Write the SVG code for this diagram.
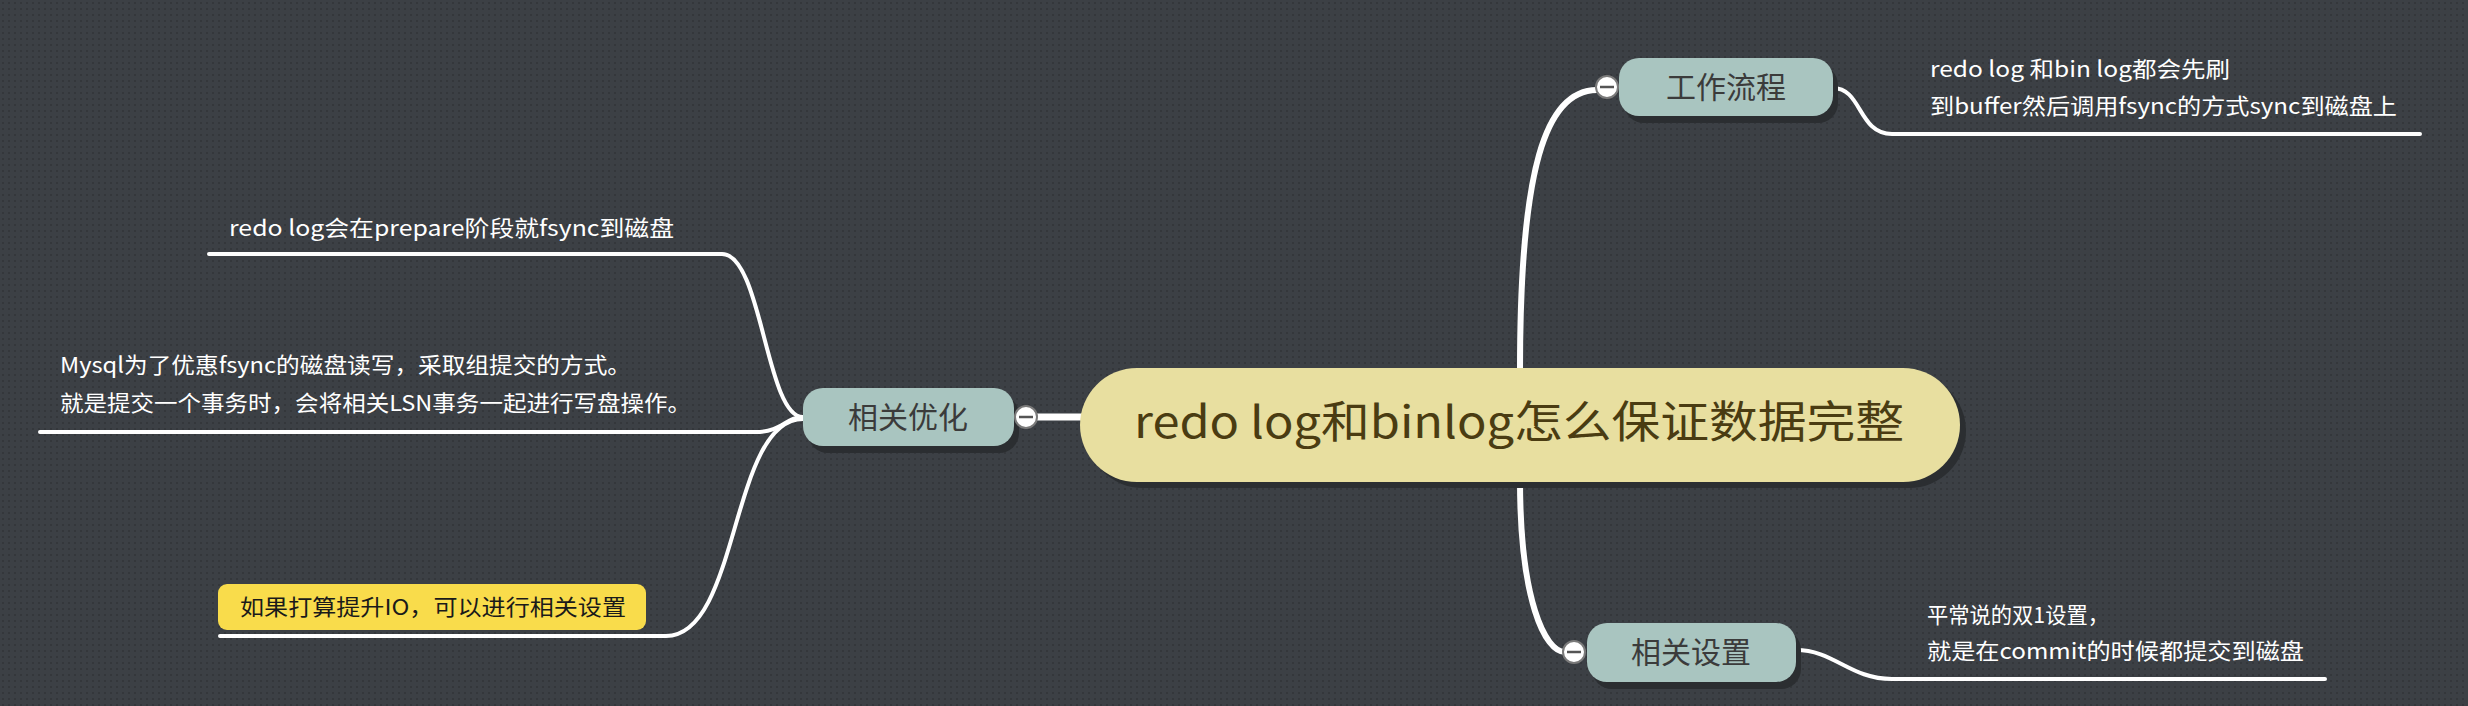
<svg xmlns="http://www.w3.org/2000/svg" width="2468" height="706" viewBox="0 0 2468 706">
<defs>
<pattern id="dots" width="6" height="6" patternUnits="userSpaceOnUse">
<rect width="6" height="6" fill="#3c4045"/>
<rect x="2" y="2" width="2" height="2" fill="#34373b"/>
</pattern>
<style>
.conn{fill:none;stroke:#ffffff;stroke-linecap:round}
.t{font-family:"Noto Sans CJK SC","Noto Sans",sans-serif}
.lbl{fill:#ffffff;font-size:22px}
.sub{fill:#a9c5c0}
.subt{fill:#3b3b3b;font-size:30px;text-anchor:middle}
.shadow{fill:#2b2e31}
.tog{fill:#ffffff;stroke:#7a7a7a;stroke-width:2}
.minus{stroke:#555555;stroke-width:2.5}
</style>
</defs>
<rect width="2468" height="706" fill="url(#dots)"/>
<g id="connectors">
<path class="conn" stroke-width="6" d="M1520 370 C1520 170 1545 90 1597 90"/>
<path class="conn" stroke-width="6" d="M1520 480 C1520 600 1545 652 1565 652"/>
<path class="conn" stroke-width="7" d="M1036 417 H1082"/>
<path class="conn" stroke-width="4" d="M1833 88 C1862 88 1858 134 1892 134 H2420"/>
<path class="conn" stroke-width="4" d="M1796 650 C1834 650 1850 679 1892 679 H2325"/>
<path class="conn" stroke-width="4" d="M209 254 H722 C762 254 766 417 803 417"/>
<path class="conn" stroke-width="4" d="M40 432 H756 C782 432 786 417 803 417"/>
<path class="conn" stroke-width="4" d="M220 636 H666 C740 636 730 419 803 419"/>
</g>
<g id="central">
<rect class="shadow" x="1086" y="374" width="880" height="114" rx="57"/>
<rect x="1080" y="368" width="880" height="114" rx="57" fill="#e8dfa0"/>
<text class="t" x="1134" y="438" font-size="44" fill="#4a3c12" textLength="770" lengthAdjust="spacingAndGlyphs">redo log和binlog怎么保证数据完整</text>
</g>
<g id="node-gongzuo">
<rect class="shadow" x="1624" y="65" width="214" height="58" rx="20"/>
<rect class="sub" x="1619" y="58" width="214" height="58" rx="20"/>
<text class="t subt" x="1726" y="98">工作流程</text>
<circle class="tog" cx="1607" cy="87" r="11"/>
<line class="minus" x1="1600" y1="87" x2="1614" y2="87"/>
</g>
<g id="node-shezhi">
<rect class="shadow" x="1592" y="630" width="209" height="59" rx="20"/>
<rect class="sub" x="1587" y="623" width="209" height="59" rx="20"/>
<text class="t subt" x="1691" y="663">相关设置</text>
<circle class="tog" cx="1574" cy="652" r="11"/>
<line class="minus" x1="1567" y1="652" x2="1581" y2="652"/>
</g>
<g id="node-youhua">
<rect class="shadow" x="808" y="395" width="211" height="58" rx="20"/>
<rect class="sub" x="803" y="388" width="211" height="58" rx="20"/>
<text class="t subt" x="908" y="428">相关优化</text>
<circle class="tog" cx="1026" cy="417" r="11"/>
<line class="minus" x1="1019" y1="417" x2="1033" y2="417"/>
</g>
<g id="leaf-workflow">
<text class="t lbl" x="1930" y="77" textLength="300" lengthAdjust="spacingAndGlyphs">redo log 和bin log都会先刷</text>
<text class="t lbl" x="1930" y="114" textLength="467" lengthAdjust="spacingAndGlyphs">到buffer然后调用fsync的方式sync到磁盘上</text>
</g>
<g id="leaf-setting">
<text class="t lbl" x="1927" y="623" textLength="182" lengthAdjust="spacingAndGlyphs">平常说的双1设置，</text>
<text class="t lbl" x="1927" y="659" textLength="377" lengthAdjust="spacingAndGlyphs">就是在commit的时候都提交到磁盘</text>
</g>
<g id="leaf-prepare">
<text class="t lbl" x="229" y="236" textLength="445" lengthAdjust="spacingAndGlyphs">redo log会在prepare阶段就fsync到磁盘</text>
</g>
<g id="leaf-group">
<text class="t lbl" x="60" y="373" textLength="571" lengthAdjust="spacingAndGlyphs">Mysql为了优惠fsync的磁盘读写，采取组提交的方式。</text>
<text class="t lbl" x="60" y="411" textLength="631" lengthAdjust="spacingAndGlyphs">就是提交一个事务时，会将相关LSN事务一起进行写盘操作。</text>
</g>
<g id="leaf-io">
<rect x="218" y="584" width="428" height="46" rx="9" fill="#f9dc4b"/>
<text class="t" x="240" y="615" font-size="22" fill="#1a1a1a" textLength="386" lengthAdjust="spacingAndGlyphs">如果打算提升IO，可以进行相关设置</text>
</g>
</svg>
